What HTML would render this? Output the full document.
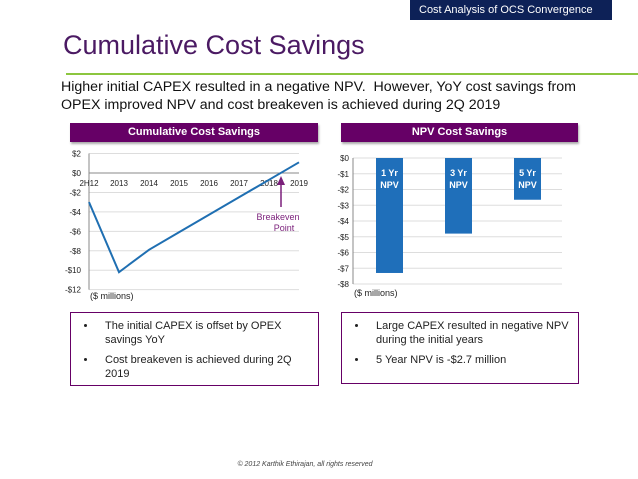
<!DOCTYPE html>
<html><head><meta charset="utf-8"><style>
body{margin:0;width:638px;height:479px;background:#fff;font-family:"Liberation Sans",sans-serif;position:relative;overflow:hidden}
.a{position:absolute}
.hdr{background:#660066;color:#fff;font-weight:bold;font-size:11px;text-align:center;line-height:19px;box-shadow:1px 2px 2px #aaa}
.box{border:1px solid #660066;font-size:11px;color:#222}
.box ul{margin:6px 0 0 0;padding-left:26px}
.box li{margin-bottom:6px;line-height:14px;padding-left:8px}
</style></head><body>
<div class="a" style="left:410px;top:0;width:202px;height:20px;background:#0d2157;color:#fff;font-size:11px;line-height:20px;padding-left:9px;box-sizing:border-box">Cost Analysis of OCS Convergence</div>
<div class="a" style="left:63px;top:30px;font-size:27px;color:#4b1a63">Cumulative Cost Savings</div>
<div class="a" style="left:66px;top:73px;width:572px;height:2px;background:#8cc63f"></div>
<div class="a" style="left:61px;top:78px;font-size:14.2px;line-height:18px;color:#111">Higher initial CAPEX resulted in a negative NPV.&nbsp; However, YoY cost savings from<br>OPEX improved NPV and cost breakeven is achieved during 2Q 2019</div>
<div class="a hdr" style="left:70px;top:123px;width:248px;height:19px">Cumulative Cost Savings</div>
<div class="a hdr" style="left:341px;top:123px;width:237px;height:19px">NPV Cost Savings</div>
<svg class="a" style="left:0;top:0" width="638" height="479">
<g id="lc"></g>
<g id="bc"></g>
</svg>
<div class="a box" style="left:70px;top:312px;width:247px;height:72px"><ul><li>The initial CAPEX is offset by OPEX savings YoY</li><li>Cost breakeven is achieved during 2Q 2019</li></ul></div>
<div class="a box" style="left:341px;top:312px;width:236px;height:70px"><ul><li>Large CAPEX resulted in negative NPV during the initial years</li><li>5 Year NPV is -$2.7 million</li></ul></div>
<div class="a" style="left:0;width:610px;top:461px;text-align:center;font-size:7px;font-style:italic;color:#444">© 2012 Karthik Ethirajan, all rights reserved</div>
<script>
const lineCats=["2H12","2013","2014","2015","2016","2017","2018","2019"];
const lineVals=[-3,-10.2,-7.9,-6.1,-4.3,-2.5,-0.7,1.1];
const lineTicks=[2,0,-2,-4,-6,-8,-10,-12];
const barCats=["1 Yr NPV","3 Yr NPV","5 Yr NPV"];
const barVals=[-7.3,-4.8,-2.65];
const barTicks=[0,-1,-2,-3,-4,-5,-6,-7,-8];
const NS="http://www.w3.org/2000/svg";
function mk(p,t,a,txt){const e=document.createElementNS(NS,t);for(const k in a)e.setAttribute(k,a[k]);if(txt!==undefined)e.textContent=txt;p.appendChild(e);return e;}
// line chart
const lc=document.getElementById('lc');
const lx=i=>89+i*30, ly=v=>173-v*9.72;
lineTicks.forEach(t=>{const g=mk(lc,'line',{x1:89,x2:299,y1:ly(t),y2:ly(t),stroke:t===0?'#888':'#ddd','stroke-width':1});

const l=mk(lc,'text',{x:81,y:ly(t)+3,'text-anchor':'end','font-size':8,fill:'#222','font-family':'Liberation Sans'},(t<0?'-$'+(-t):'$'+t));
});
mk(lc,'line',{x1:89,x2:89,y1:ly(2),y2:ly(-12),stroke:'#888'});
lineCats.forEach((c,i)=>{const l=mk(lc,'text',{x:lx(i),y:186,'text-anchor':'middle','font-size':8,fill:'#222','font-family':'Liberation Sans'},c);
});
const pl=mk(lc,'polyline',{points:lineVals.map((v,i)=>lx(i)+','+ly(v)).join(' '),fill:'none',stroke:'#1f6fb2','stroke-width':2});

mk(lc,'line',{x1:281,x2:281,y1:207,y2:180,stroke:'#7a1f7a','stroke-width':1.5});
mk(lc,'path',{d:'M277,185 L281,176 L285,185 Z',fill:'#7a1f7a'});
const bt=mk(lc,'text',{x:278,y:220,'text-anchor':'middle','font-size':9,fill:'#7a1f7a','font-family':'Liberation Sans'},'Breakeven');

mk(lc,'text',{x:284,y:231,'text-anchor':'middle','font-size':9,fill:'#7a1f7a','font-family':'Liberation Sans'},'Point');
mk(lc,'text',{x:90,y:299,'font-size':9,fill:'#222','font-family':'Liberation Sans'},'($ millions)');
// bar chart
const bc=document.getElementById('bc');
const by=v=>158-v*15.75;
barTicks.forEach(t=>{const g=mk(bc,'line',{x1:353,x2:562,y1:by(t),y2:by(t),stroke:'#ddd'});

const l=mk(bc,'text',{x:349,y:by(t)+3,'text-anchor':'end','font-size':8,fill:'#222','font-family':'Liberation Sans'},(t<0?'-$'+(-t):'$0'));
});
mk(bc,'line',{x1:353,x2:353,y1:158,y2:284,stroke:'#888'});
barCats.forEach((c,i)=>{const x=376+i*69;
const r=mk(bc,'rect',{x:x,y:by(0),width:27,height:by(barVals[i])-by(0),fill:'#1f6fba'});

const p=c.split(' ');
mk(bc,'text',{x:x+13.5,y:176,'text-anchor':'middle','font-size':9,'font-weight':'bold',fill:'#fff','font-family':'Liberation Sans'},p[0]+' '+p[1]);
mk(bc,'text',{x:x+13.5,y:188,'text-anchor':'middle','font-size':9,'font-weight':'bold',fill:'#fff','font-family':'Liberation Sans'},p[2]);});
mk(bc,'text',{x:354,y:296,'font-size':9,fill:'#222','font-family':'Liberation Sans'},'($ millions)');
</script>
</body></html>
